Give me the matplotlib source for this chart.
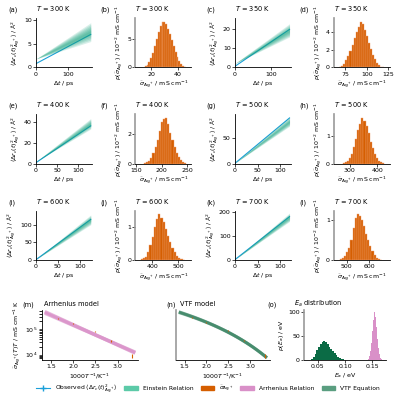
import numpy as np
import matplotlib
matplotlib.use("Agg")
import matplotlib.pyplot as plt
from matplotlib.lines import Line2D
from matplotlib.patches import Patch

plt.rcParams.update({"font.size": 4.5, "axes.linewidth": 0.6, "xtick.major.width": 0.5,
                     "ytick.major.width": 0.5, "xtick.major.size": 2, "ytick.major.size": 2,
                     "xtick.major.pad": 1, "ytick.major.pad": 1, "axes.labelpad": 1.5})

temps = [300, 350, 400, 500, 600, 700]
letters_msd = ["(a)", "(c)", "(e)", "(g)", "(i)", "(k)"]
letters_hist = ["(b)", "(d)", "(f)", "(h)", "(j)", "(l)"]
# MSD panels
msd_tmax = [170, 150, 130, 120, 125, 120]
msd_obs_start = [0.8, 0.5, 1.0, 0.5, 1.0, 1.0]
msd_obs_end = [7.0, 20.0, 36.0, 88.0, 115.0, 180.0]
fan_intercept = [1.8, 2.0, 2.0, 1.0, 2.0, 2.0]
fan_end_low = [5.5, 16.0, 33.0, 72.0, 100.0, 160.0]
fan_end_high = [9.5, 23.0, 43.0, 90.0, 128.0, 195.0]
msd_ylim = [10.5, 26, 47, 95, 140, 205]
msd_yticks = [[0, 5, 10], [0, 10, 20], [0, 20, 40], [0, 50], [0, 50, 100], [0, 100, 200]]
msd_xticks = [[0, 100], [0, 100], [0, 50, 100], [0, 50, 100], [0, 50, 100], [0, 50, 100]]
# Histogram panels (conductivity, mS/cm; density x10^-2)
hist_lo = [15, 68, 165, 275, 355, 470]
hist_hi = [46, 120, 248, 425, 525, 655]
hist_heights = [
    [0.2, 0.4, 0.9, 1.6, 2.6, 3.8, 5.0, 6.2, 7.2, 7.9, 8.0, 7.6, 6.8, 5.8, 4.8, 3.7, 2.7, 1.8, 1.1, 0.6, 0.3, 0.1],
    [0.1, 0.2, 0.4, 0.8, 1.3, 1.9, 2.6, 3.3, 4.0, 4.6, 5.2, 4.9, 4.3, 3.6, 2.8, 2.1, 1.4, 0.9, 0.5, 0.3, 0.1, 0.05],
    [0.05, 0.1, 0.2, 0.4, 0.7, 1.1, 1.6, 2.2, 2.8, 3.05, 3.1, 2.7, 2.1, 1.6, 1.1, 0.7, 0.45, 0.25, 0.12, 0.05],
    [0.03, 0.06, 0.1, 0.2, 0.35, 0.6, 0.9, 1.2, 1.45, 1.65, 1.55, 1.35, 1.1, 0.8, 0.55, 0.35, 0.2, 0.1, 0.05, 0.02],
    [0.02, 0.05, 0.1, 0.25, 0.45, 0.7, 1.0, 1.25, 1.4, 1.3, 1.15, 0.95, 0.75, 0.55, 0.38, 0.24, 0.12, 0.06, 0.03, 0.01],
    [0.02, 0.05, 0.1, 0.2, 0.3, 0.5, 0.8, 1.05, 1.15, 1.1, 1.0, 0.85, 0.65, 0.5, 0.35, 0.22, 0.12, 0.06, 0.03, 0.01],
]
hist_xticks = [[20, 40], [75, 100, 125], [150, 200, 250], [300, 400], [400, 500], [500, 600]]
hist_yticks = [[0, 5], [0, 2, 4], [0, 2], [0, 1], [0, 1], [0, 1]]
hist_xlim = [(8, 50), (62, 127), (148, 258), (245, 445), (335, 550), (445, 690)]
# Arrhenius data
inv_T = [1000 / t for t in temps]
sigmaT_obs = [9.0e3, 3.4e4, 8.2e4, 1.7e5, 2.6e5, 3.9e5]
sigmaT_err = [1.5e3, 2e3, 4e3, 6e3, 8e3, 1.2e4]
arr_Ea = [0.155, 0.150, 0.160]
arr_pref_at_1p4 = [4.3e5, 4.0e5, 4.6e5]
vtf_A = [1.6e6, 1.5e6, 1.7e6]
vtf_B = [778, 760, 800]
vtf_T0 = [150, 152, 148]
# Ea distributions
ea_green_lo, ea_green_hi = 0.035, 0.105
ea_green_heights = [1, 3, 7, 13, 20, 27, 33, 38, 40, 37, 33, 28, 23, 18, 14, 10, 7, 5, 3, 2, 1, 0.5]
ea_pink_lo, ea_pink_hi = 0.141, 0.169
ea_pink_heights = [1, 3, 8, 18, 35, 60, 85, 100, 90, 70, 45, 25, 12, 5, 2, 1]

blue = "#1a9fd9"
teal = "#12a07a"
orange = "#d55e00"
pink = "#d990c8"
vtfc = "#2e7d5a"
dgreen = "#0b6b45"

fig = plt.figure(figsize=(4, 4), dpi=100)
gs = fig.add_gridspec(3, 4, left=0.09, right=0.975, top=0.955, bottom=0.35, hspace=0.95, wspace=0.78)

def title(ax, letter, text, lx=-0.5):
    ax.text(lx, 1.1, letter, transform=ax.transAxes, fontsize=4.8, va="bottom")
    ax.text(0.0, 1.1, text, transform=ax.transAxes, fontsize=4.8, va="bottom")

def clean(ax, gray_left=False):
    for s in ["top", "right"]:
        ax.spines[s].set_visible(False)
    if gray_left:
        ax.spines["left"].set_color("#999999"); ax.spines["left"].set_linewidth(1.2)

for i in range(6):
    r, c = divmod(i, 2)
    ax = fig.add_subplot(gs[r, 2 * c])
    tmax = msd_tmax[i]
    t = np.array([0, tmax])
    n = 6
    mid = (fan_end_low[i] + fan_end_high[i]) / 2
    for k in range(n):
        lo = fan_end_low[i] + (mid - fan_end_low[i]) * k / n
        hi = fan_end_high[i] - (fan_end_high[i] - mid) * k / n
        ax.fill_between(t, [fan_intercept[i], lo], [fan_intercept[i], hi], color=teal, alpha=0.16, lw=0, zorder=2)
    ax.plot(t, [msd_obs_start[i], msd_obs_end[i]], color=blue, lw=0.8, zorder=1)
    ax.set_xlim(0, tmax * 1.02)
    ax.set_ylim(0, msd_ylim[i])
    ax.set_xticks(msd_xticks[i]); ax.set_yticks(msd_yticks[i])
    ax.set_xlabel(r"$\Delta t$ / ps")
    ax.set_ylabel(r"$\langle\Delta r_c(t)^2_{\mathrm{Ag^+}}\rangle$ / Å$^2$")
    clean(ax)
    title(ax, letters_msd[i], rf"$T$ = {temps[i]} K")

    ax = fig.add_subplot(gs[r, 2 * c + 1])
    h = hist_heights[i]
    edges = np.linspace(hist_lo[i], hist_hi[i], len(h) + 1)
    ax.bar(edges[:-1], h, width=np.diff(edges), align="edge", color=orange, edgecolor="#f0a070", lw=0.3)
    ax.set_xlim(*hist_xlim[i])
    ax.set_ylim(0, max(h) * 1.08)
    ax.set_xticks(hist_xticks[i]); ax.set_yticks(hist_yticks[i])
    ax.set_xlabel(r"$\tilde{\sigma}_{\mathrm{Ag^+}}$ / mS cm$^{-1}$")
    ax.set_ylabel(r"$p(\tilde{\sigma}_{\mathrm{Ag^+}})$ / 10$^{-2}$ mS cm$^{-1}$")
    clean(ax, True)
    title(ax, letters_hist[i], rf"$T$ = {temps[i]} K", lx=-0.62)

kB = 8.617e-5
xs = np.linspace(1.4, 3.36, 50)
axm = fig.add_axes([0.105, 0.1, 0.24, 0.125])
for pre, ea in zip(arr_pref_at_1p4, arr_Ea):
    axm.plot(xs, pre * np.exp(-ea / kB / 1000 * (xs - 1.4)), color=pink, lw=2.5, alpha=0.6)
axm.errorbar(inv_T, sigmaT_obs, yerr=sigmaT_err, fmt="none", ecolor=orange, elinewidth=0.8)
axm.set_yscale("log")
axm.set_xticks([1.5, 2.0, 2.5, 3.0])
axm.set_xlabel(r"1000$T^{-1}$/K$^{-1}$")
axm.set_ylabel(r"$\tilde{\sigma}_{\mathrm{Ag^+}}(T)T$ / mS cm$^{-1}$ K")
clean(axm)
axm.text(-0.2, 1.08, "(m)", transform=axm.transAxes, fontsize=4.8)
axm.text(0.02, 1.08, "Arrhenius model", transform=axm.transAxes, fontsize=4.8)

axn = fig.add_axes([0.44, 0.1, 0.235, 0.125])
for A, B, T0 in zip(vtf_A, vtf_B, vtf_T0):
    T = 1000 / xs
    axn.plot(xs, A * np.exp(-B / (T - T0)), color=vtfc, lw=2.2, alpha=0.5)
axn.errorbar(inv_T, sigmaT_obs, yerr=sigmaT_err, fmt="none", ecolor=orange, elinewidth=0.8)
axn.set_yscale("log")
axn.set_yticks([]); axn.minorticks_off()
axn.set_xticks([1.5, 2.0, 2.5, 3.0])
axn.set_xlabel(r"1000$T^{-1}$/K$^{-1}$")
clean(axn, True)
axn.text(-0.1, 1.08, "(n)", transform=axn.transAxes, fontsize=4.8)
axn.text(0.04, 1.08, "VTF model", transform=axn.transAxes, fontsize=4.8)

axo = fig.add_axes([0.76, 0.1, 0.205, 0.125])
e1 = np.linspace(ea_green_lo, ea_green_hi, len(ea_green_heights) + 1)
axo.bar(e1[:-1], ea_green_heights, width=np.diff(e1), align="edge", color=dgreen, lw=0)
e2 = np.linspace(ea_pink_lo, ea_pink_hi, len(ea_pink_heights) + 1)
axo.bar(e2[:-1], ea_pink_heights, width=np.diff(e2), align="edge", color=pink, lw=0)
axo.set_xlim(0.025, 0.175); axo.set_ylim(0, 105)
axo.set_xticks([0.05, 0.10, 0.15]); axo.set_yticks([0, 50, 100])
axo.set_xlabel(r"$E_a$ / eV"); axo.set_ylabel(r"$p(E_a)$ / eV")
clean(axo, True)
axo.text(-0.45, 1.08, "(o)", transform=axo.transAxes, fontsize=4.8)
axo.text(-0.12, 1.08, r"$E_a$ distribution", transform=axo.transAxes, fontsize=4.8)

handles = [Line2D([], [], color=blue, marker="+", lw=0.8, markersize=5),
           Patch(color="#5ccaa8"), Patch(color=orange), Patch(color=pink), Patch(color="#5a9e80")]
labels = [r"Observed $\langle\Delta r_c(t)^2_{\mathrm{Ag^+}}\rangle$", "Einstein Relation",
          r"$\tilde{\sigma}_{\mathrm{Ag^+}}$", "Arrhenius Relation", "VTF Equation"]
fig.legend(handles, labels, loc="lower center", ncol=5, frameon=False, fontsize=4.3,
           bbox_to_anchor=(0.52, 0.0), handlelength=2.3, columnspacing=1.2)
fig.savefig("out.png", dpi=100)
